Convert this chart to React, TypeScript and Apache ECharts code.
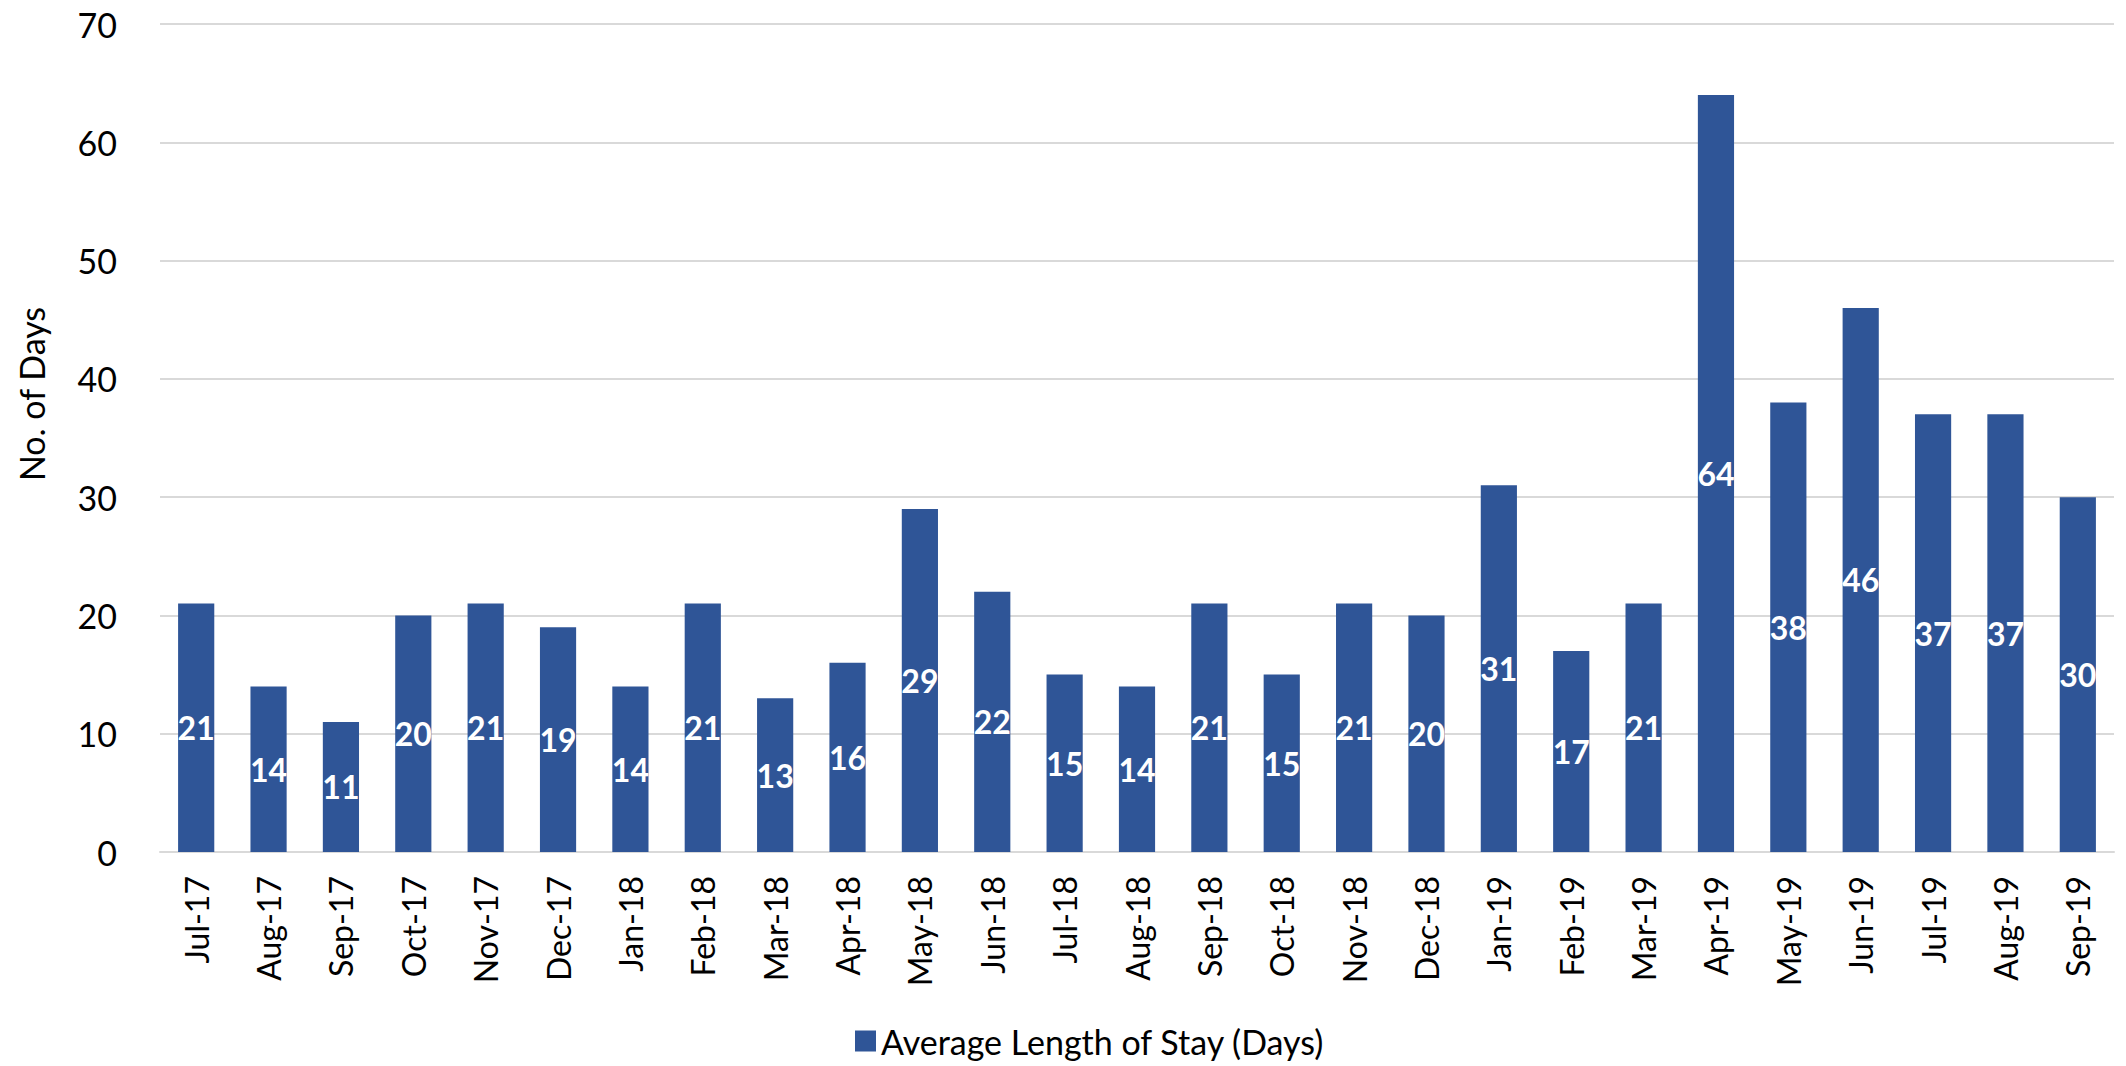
import React, { useEffect, useRef } from "react";
import * as echarts from "echarts";

const categories = [
  "Jul-17", "Aug-17", "Sep-17", "Oct-17", "Nov-17", "Dec-17",
  "Jan-18", "Feb-18", "Mar-18", "Apr-18", "May-18", "Jun-18",
  "Jul-18", "Aug-18", "Sep-18", "Oct-18", "Nov-18", "Dec-18",
  "Jan-19", "Feb-19", "Mar-19", "Apr-19", "May-19", "Jun-19",
  "Jul-19", "Aug-19", "Sep-19",
];
const avgStay = [21, 14, 11, 20, 21, 19, 14, 21, 13, 16, 29, 22, 15, 14, 21, 15, 21, 20, 31, 17, 21, 64, 38, 46, 37, 37, 30];
const seriesName = "Average Length of Stay (Days)";
const yAxisTitle = "No. of Days";

const FONT = "Lato, 'Open Sans', sans-serif";

export default function App() {
  const ref = useRef<HTMLDivElement>(null);
  useEffect(() => {
    if (!ref.current) return;
    const chart = echarts.init(ref.current, undefined, { renderer: "svg" });
    chart.setOption({
      animation: false,
      backgroundColor: "#ffffff",
      textStyle: { fontFamily: FONT },
      grid: { left: 160, right: 12, top: 24, bottom: 214, containLabel: false },
      legend: {
        data: [seriesName],
        left: 850,
        top: 1019,
        itemWidth: 21,
        itemHeight: 21,
        itemGap: 10,
        icon: "rect",
        textStyle: { fontSize: 34, color: "#000000", fontFamily: FONT },
      },
      graphic: [
        {
          type: "text",
          x: 31,
          y: 394,
          rotation: Math.PI / 2,
          style: {
            text: yAxisTitle,
            fontSize: 34,
            fontFamily: FONT,
            fill: "#000000",
            align: "center",
            verticalAlign: "middle",
          },
        },
      ],
      xAxis: {
        type: "category",
        data: categories,
        axisLine: { lineStyle: { color: "#d9d9d9", width: 2 } },
        axisTick: { length: 12, lineStyle: { color: "#d9d9d9", width: 2 } },
        axisLabel: { rotate: 90, fontSize: 32, color: "#000000", margin: 24, fontFamily: FONT, interval: 0 },
      },
      yAxis: {
        type: "value",
        min: 0,
        max: 70,
        interval: 10,
        axisLine: { show: false },
        axisTick: { show: false },
        splitLine: { lineStyle: { color: "#d9d9d9", width: 2 } },
        axisLabel: { fontSize: 34, color: "#000000", margin: 43, fontFamily: FONT },
      },
      series: [
        {
          name: seriesName,
          type: "bar",
          data: avgStay,
          barCategoryGap: "50%",
          itemStyle: { color: "#2f5597" },
          label: {
            show: true,
            position: "inside",
            color: "#ffffff",
            fontWeight: "bold",
            fontSize: 32,
            fontFamily: FONT,
          },
        },
      ],
    });
    return () => chart.dispose();
  }, []);
  return (
    <div
      ref={ref}
      style={{ position: "fixed", left: 0, top: 0, width: 2126, height: 1066 }}
    />
  );
}
